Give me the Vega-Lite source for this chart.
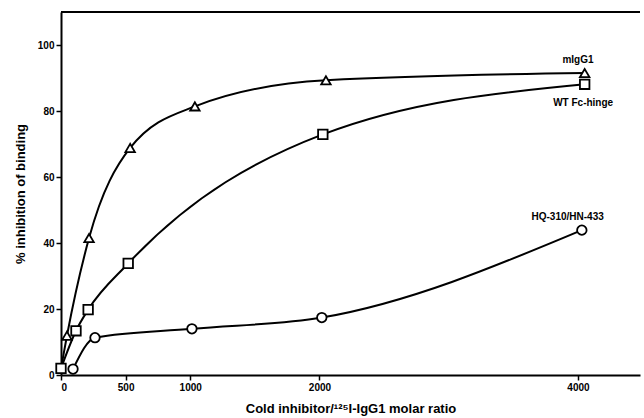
{
  "$schema": "https://vega.github.io/schema/vega-lite/v6.json",
  "width": 579,
  "height": 363,
  "autosize": {"type": "none"},
  "padding": {"left": 61, "top": 12, "right": 4, "bottom": 43},
  "background": "white",
  "config": {
    "view": {"stroke": null},
    "font": "Liberation Sans",
    "axis": {
      "domainColor": "black", "domainWidth": 2, "tickColor": "black", "tickWidth": 1.5, "tickSize": 5,
      "labelFont": "Liberation Sans", "labelFontWeight": "bold", "labelFontSize": 10, "labelColor": "black",
      "titleFont": "Liberation Sans", "titleFontWeight": "bold", "titleFontSize": 13, "titleColor": "black",
      "grid": false
    }
  },
  "datasets": {
    "pts": [
      {"series": "mIgG1", "ratio": 0, "inhibition": 2},
      {"series": "mIgG1", "ratio": 46, "inhibition": 11.9},
      {"series": "mIgG1", "ratio": 217, "inhibition": 41.5},
      {"series": "mIgG1", "ratio": 535, "inhibition": 68.8},
      {"series": "mIgG1", "ratio": 1036, "inhibition": 81.4},
      {"series": "mIgG1", "ratio": 2050, "inhibition": 89.3},
      {"series": "mIgG1", "ratio": 4052, "inhibition": 91.5},
      {"series": "WT Fc-hinge", "ratio": 0, "inhibition": 2},
      {"series": "WT Fc-hinge", "ratio": 116, "inhibition": 13.4},
      {"series": "WT Fc-hinge", "ratio": 210, "inhibition": 19.8},
      {"series": "WT Fc-hinge", "ratio": 520, "inhibition": 33.8},
      {"series": "WT Fc-hinge", "ratio": 2026, "inhibition": 72.9},
      {"series": "WT Fc-hinge", "ratio": 4052, "inhibition": 88.1},
      {"series": "HQ-310/HN-433", "ratio": 93, "inhibition": 1.8},
      {"series": "HQ-310/HN-433", "ratio": 263, "inhibition": 11.3},
      {"series": "HQ-310/HN-433", "ratio": 1013, "inhibition": 14},
      {"series": "HQ-310/HN-433", "ratio": 2018, "inhibition": 17.4},
      {"series": "HQ-310/HN-433", "ratio": 4030, "inhibition": 43.9}
    ],
    "labels": [
      {"label": "mIgG1", "ratio": 4000, "inhibition": 95.5},
      {"label": "WT Fc-hinge", "ratio": 4040, "inhibition": 82.5},
      {"label": "HQ-310/HN-433", "ratio": 3920, "inhibition": 48}
    ],
    "frame": [{"top": 110}]
  },
  "layer": [
    {
      "data": {"name": "frame"},
      "mark": {"type": "rule", "color": "black", "strokeWidth": 2},
      "encoding": {"y": {"field": "top", "type": "quantitative", "scale": {"domain": [0, 110], "nice": false}}}
    },
    {
      "data": {"name": "pts"},
      "mark": {"type": "line", "interpolate": "monotone", "color": "black", "strokeWidth": 2},
      "encoding": {
        "x": {"field": "ratio", "type": "quantitative", "scale": {"domain": [0, 4480], "nice": false},
              "axis": {"values": [0, 500, 1000, 2000, 4000], "format": "d", "title": "Cold inhibitor/¹²⁵I-IgG1 molar ratio", "titlePadding": 10}},
        "y": {"field": "inhibition", "type": "quantitative", "scale": {"domain": [0, 110], "nice": false},
              "axis": {"values": [0, 20, 40, 60, 80, 100], "title": "% inhibition of binding", "titlePadding": 10}},
        "detail": {"field": "series"}
      }
    },
    {
      "data": {"name": "pts"},
      "transform": [{"filter": "!(datum.series == 'mIgG1' && datum.ratio == 0)"}],
      "mark": {"type": "point", "filled": true, "fill": "white", "stroke": "black", "strokeWidth": 1.8, "opacity": 1},
      "encoding": {
        "x": {"field": "ratio", "type": "quantitative"},
        "y": {"field": "inhibition", "type": "quantitative"},
        "shape": {"field": "series", "type": "nominal",
                  "scale": {"domain": ["mIgG1", "WT Fc-hinge", "HQ-310/HN-433"], "range": ["triangle-up", "square", "circle"]},
                  "legend": null},
        "size": {"value": 90}
      }
    },
    {
      "data": {"name": "labels"},
      "mark": {"type": "text", "font": "Liberation Sans", "fontWeight": "bold", "fontSize": 10, "color": "black"},
      "encoding": {
        "x": {"field": "ratio", "type": "quantitative"},
        "y": {"field": "inhibition", "type": "quantitative"},
        "text": {"field": "label"}
      }
    }
  ]
}
